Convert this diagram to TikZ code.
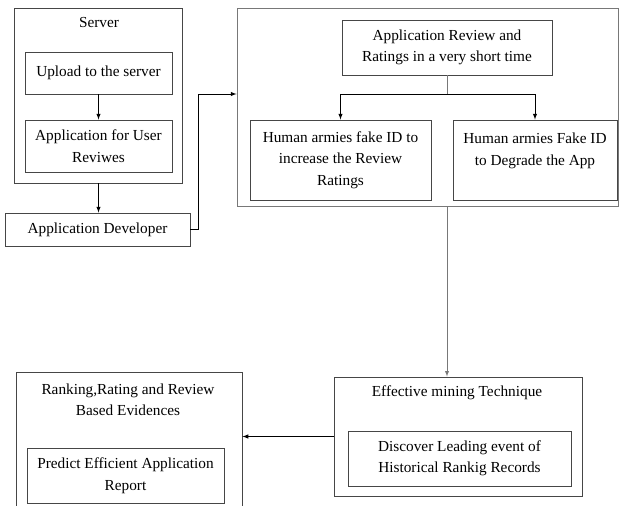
\documentclass[tikz,border=0pt]{standalone}
\usepackage{fontspec}
\setmainfont{Liberation Serif}
\usetikzlibrary{positioning}
\usetikzlibrary{calc}
\usetikzlibrary{arrows}
\definecolor{edge}{RGB}{70,70,70}
\definecolor{frame}{RGB}{120,120,120}

\begin{document}
\begin{tikzpicture}[x=1pt, y=-1pt, >=latex,
  box/.style={draw=edge, line width=0.9pt, rectangle, align=center, inner sep=2pt},
  title/.style={align=center, inner sep=0pt},
  link/.style={->, line width=1pt, black}]

\fontsize{15.3}{21.5}\selectfont
\useasboundingbox (0,0) rectangle (619,506);

%---------------------------------------
% Server side
%---------------------------------------
\node[box, minimum width=168, minimum height=175] (server) at (98.5,95.5) {};
\node[title] (servertitle) at (99,23) {Server};
\node[box, minimum width=147, minimum height=42] (upload) at (98.5,73) {Upload to the server};
\node[box, minimum width=147, minimum height=52] (reviews) at (98.5,146)
  {Application for User\\Reviwes};
\node[box, minimum width=185, minimum height=33] (dev) at (97.5,229.5) {Application Developer};

\draw[link] (upload) -- (reviews);
\draw[link] (server.south) -- (server.south |- dev.north);

%---------------------------------------
% Review and ratings block
%---------------------------------------
\node[box, draw=frame, minimum width=381, minimum height=198] (bigbox) at (427.5,107) {};
\node[box, minimum width=210, minimum height=55] (review) at (447,47.5)
  {Application Review and\\Ratings in a very short time};
\node[box, minimum width=181, minimum height=80] (fakeup) at (340.5,160)
  {Human armies fake ID to\\increase the Review\\Ratings};
\node[box, minimum width=164, minimum height=80] (fakedown) at (535,160)
  {Human armies Fake ID\\to Degrade the App\\~};

\draw[link] (dev.east) -- ++(8,0) |- ([yshift=13pt]bigbox.west);

\coordinate (split) at (review.south |- 0,94);
\draw[frame, line width=0.9pt] (review.south) -- (split);
\draw[link] (split) -| (fakeup.north);
\draw[link] (split) -| (fakedown.north);

%---------------------------------------
% Mining and evidences
%---------------------------------------
\node[box, minimum width=248, minimum height=119] (mining) at (458,436.5) {};
\node[title] (miningtitle) at (457,393) {Effective mining Technique};
\node[box, minimum width=223, minimum height=55] (discover) at (459.5,458.5)
  {Discover Leading event of\\Historical Rankig Records};

\node[box, minimum width=226, minimum height=140] (ranking) at (129,442) {};
\node[title] (rankingtitle) at (128,400) {Ranking,Rating and Review\\Based Evidences};
\node[box, minimum width=197, minimum height=55] (predict) at (125.5,475.5)
  {Predict Efficient Application\\Report};

\draw[->, frame, line width=0.9pt] (review.south |- bigbox.south) -- (review.south |- mining.north);
\draw[link] (mining.west) -- (mining.west -| ranking.east);

\end{tikzpicture}
\end{document}
